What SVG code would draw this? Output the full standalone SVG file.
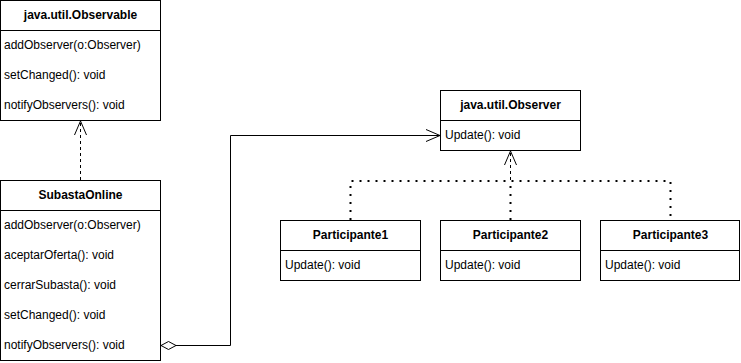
<svg xmlns="http://www.w3.org/2000/svg" width="741" height="363" viewBox="0 0 741 363">
  <style>
    .box { fill: #ffffff; stroke: #000000; stroke-width: 1; }
    .sep { stroke: #000000; stroke-width: 1; }
    text { font-family: "Liberation Sans", Arial, Helvetica, sans-serif; font-size: 12px; fill: #000000; }
    .title { font-weight: bold; text-anchor: middle; }
    .edge { fill: none; stroke: #000000; stroke-width: 1; }
    .dashed { stroke-dasharray: 3 3; }
    .dotted { stroke-width: 2; stroke-dasharray: 2 6; }
  </style>
  <defs>
    <marker id="openArrow" viewBox="0 0 16 14" refX="15" refY="7" markerWidth="16" markerHeight="14" markerUnits="userSpaceOnUse" orient="auto">
      <path d="M1,1 L15,7 L1,13" fill="none" stroke="#000000" stroke-width="1"/>
    </marker>
    <!-- aggregation diamond, drawn along the path direction from its start point -->
    <marker id="openDiamond" viewBox="0 0 18 10" refX="1" refY="5" markerWidth="18" markerHeight="10" markerUnits="userSpaceOnUse" orient="auto">
      <path d="M1,5 L8.5,1 L16,5 L8.5,9 Z" fill="#ffffff" stroke="#000000" stroke-width="1"/>
    </marker>
  </defs>

  <g id="observable">
    <rect class="box" x="0.5" y="0.5" width="160" height="120"/>
    <line class="sep" x1="0.5" y1="30.5" x2="160.5" y2="30.5"/>
    <text class="title" x="80.5" y="19">java.util.Observable</text>
    <text x="4" y="49">addObserver(o:Observer)</text>
    <text x="4" y="79">setChanged(): void</text>
    <text x="4" y="109">notifyObservers(): void</text>
  </g>

  <g id="subasta-online">
    <rect class="box" x="0.5" y="180.5" width="160" height="180"/>
    <line class="sep" x1="0.5" y1="210.5" x2="160.5" y2="210.5"/>
    <text class="title" x="80.5" y="199">SubastaOnline</text>
    <text x="4" y="229">addObserver(o:Observer)</text>
    <text x="4" y="259">aceptarOferta(): void</text>
    <text x="4" y="289">cerrarSubasta(): void</text>
    <text x="4" y="319">setChanged(): void</text>
    <text x="4" y="349">notifyObservers(): void</text>
  </g>

  <g id="observer">
    <rect class="box" x="440.5" y="90.5" width="140" height="60"/>
    <line class="sep" x1="440.5" y1="120.5" x2="580.5" y2="120.5"/>
    <text class="title" x="510.5" y="109">java.util.Observer</text>
    <text x="445" y="139">Update(): void</text>
  </g>

  <g id="participante1">
    <rect class="box" x="280.5" y="220.5" width="140" height="60"/>
    <line class="sep" x1="280.5" y1="250.5" x2="420.5" y2="250.5"/>
    <text class="title" x="350.5" y="239">Participante1</text>
    <text x="285" y="269">Update(): void</text>
  </g>

  <g id="participante2">
    <rect class="box" x="440.5" y="220.5" width="140" height="60"/>
    <line class="sep" x1="440.5" y1="250.5" x2="580.5" y2="250.5"/>
    <text class="title" x="510.5" y="239">Participante2</text>
    <text x="445" y="269">Update(): void</text>
  </g>

  <g id="participante3">
    <rect class="box" x="600.5" y="220.5" width="139" height="60"/>
    <line class="sep" x1="600.5" y1="250.5" x2="739.5" y2="250.5"/>
    <text class="title" x="670.5" y="239">Participante3</text>
    <text x="605" y="269">Update(): void</text>
  </g>

  <!-- connectors -->
  <g id="connectors">
    <path class="edge dashed" d="M80.5,180 L80.5,121" marker-end="url(#openArrow)"/>
    <path class="edge" d="M161,345.5 L230.5,345.5 L230.5,135.5 L440,135.5" marker-start="url(#openDiamond)" marker-end="url(#openArrow)"/>
    <path class="edge dashed" d="M510.5,180 L510.5,151" marker-end="url(#openArrow)"/>
    <path class="edge dotted" d="M350.5,220 L350.5,181 L670.5,181 L670.5,220"/>
    <path class="edge dotted" d="M510.5,220 L510.5,181"/>
  </g>
</svg>
